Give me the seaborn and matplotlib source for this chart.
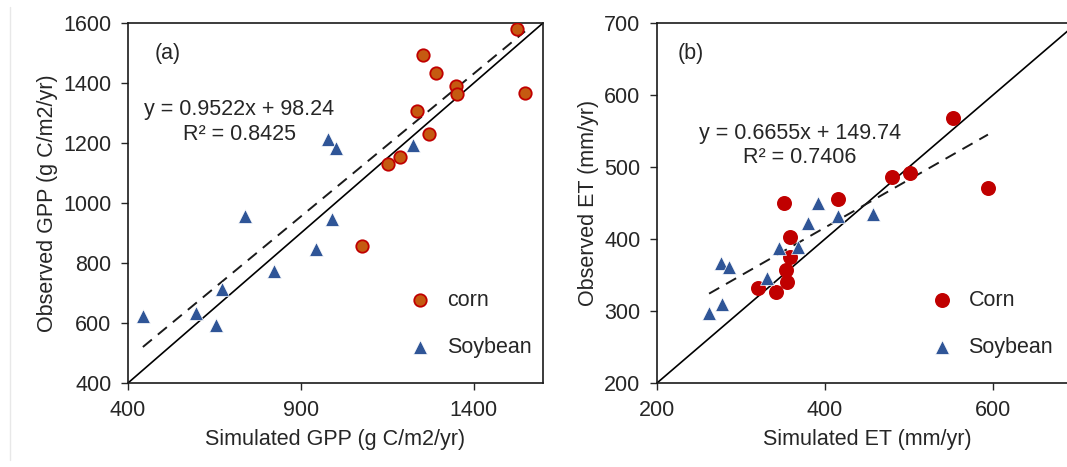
import numpy as np
import pandas as pd
import matplotlib
matplotlib.use("Agg")
import matplotlib.pyplot as plt
import seaborn as sns
from matplotlib.lines import Line2D

# ---------------- data ----------------
# Panel (a): GPP (g C/m2/yr)
gpp_corn_sim = [1525, 1548, 1253, 1291, 1348, 1351, 1236, 1270, 1187, 1152, 1077]
gpp_corn_obs = [1580, 1366, 1493, 1433, 1389, 1363, 1306, 1229, 1152, 1129, 855]
gpp_soy_sim = [978, 1001, 1224, 738, 990, 944, 822, 672, 597, 443, 654]
gpp_soy_obs = [1212, 1182, 1192, 958, 948, 848, 774, 714, 634, 624, 594]
gpp_fit = (0.9522, 98.24)
gpp_fit_text = ["y = 0.9522x + 98.24", "R\u00b2 = 0.8425"]
gpp_lim = [400, 1600]
gpp_xticks = [400, 900, 1400]
gpp_yticks = [400, 600, 800, 1000, 1200, 1400, 1600]

# Panel (b): ET (mm/yr)
et_corn_sim = [552, 594, 480, 501, 351, 415, 358, 358, 353, 355, 320, 342]
et_corn_obs = [568, 471, 486, 492, 450, 456, 403, 375, 357, 340, 332, 326]
et_soy_sim = [392, 415, 457, 380, 345, 368, 276, 286, 331, 277, 262]
et_soy_obs = [450, 432, 435, 422, 388, 389, 367, 361, 346, 310, 297]
et_fit = (0.6655, 149.74)
et_fit_text = ["y = 0.6655x + 149.74", "R\u00b2 = 0.7406"]
et_lim = [200, 700]
et_xticks = [200, 400, 600]
et_yticks = [200, 300, 400, 500, 600, 700]

labels_a = ["corn", "Soybean"]
labels_b = ["Corn", "Soybean"]

# ---------------- style ----------------
sns.set_theme(style="ticks")
plt.rcParams["font.family"] = ["Liberation Sans", "DejaVu Sans"]
TXT = "#262626"
plt.rcParams.update({
    "text.color": TXT, "axes.labelcolor": TXT,
    "xtick.color": TXT, "ytick.color": TXT,
    "axes.edgecolor": "#1a1a1a",
})
FS = 15.5

W, H = 1067, 467
fig = plt.figure(figsize=(W / 100, H / 100), dpi=100)

def pos(x0, x1, y0, y1):
    return [x0 / W, 1 - y1 / H, (x1 - x0) / W, (y1 - y0) / H]

ax1 = fig.add_axes(pos(128, 543, 23, 383))
ax2 = fig.add_axes(pos(657, 1077, 23, 383))

BLUE = "#2F5597"
RED = "#C00000"
ORANGE = "#C55A11"

def panel(ax, cs, co, ss, so, fit, fit_text, lim, xt, yt, labels,
          corn_face, corn_edge, corn_size, tag, tag_xy, text_xy,
          xlabel, ylabel, leg_anchor):
    dfc = pd.DataFrame({"sim": cs, "obs": co, "crop": labels[0]})
    dfs = pd.DataFrame({"sim": ss, "obs": so, "crop": labels[1]})
    # 1:1 line
    ax.plot(lim, lim, color="black", lw=1.2, zorder=1)
    # regression line over data range
    allx = np.array(list(cs) + list(ss))
    xr = np.array([allx.min(), allx.max()])
    ax.plot(xr, fit[0] * xr + fit[1], color="#1a1a1a", lw=1.4,
            ls=(0, (6, 4)), zorder=1)
    sns.scatterplot(data=dfc, x="sim", y="obs", ax=ax, marker="o",
                    s=corn_size, color=corn_face, edgecolor=corn_edge,
                    linewidth=1.3, label=labels[0], zorder=3)
    sns.scatterplot(data=dfs, x="sim", y="obs", ax=ax, marker="^",
                    s=100, color=BLUE, edgecolor="white", linewidth=0.5,
                    label=labels[1], zorder=3)
    ax.set_xlim(lim)
    ax.set_ylim(lim)
    ax.set_xticks(xt)
    ax.set_yticks(yt)
    ax.tick_params(axis="both", labelsize=FS, length=5, width=1.0,
                   direction="out", pad=7)
    for sp in ax.spines.values():
        sp.set_linewidth(1.2)
    ax.set_xlabel(xlabel, fontsize=FS, labelpad=6)
    ax.set_ylabel(ylabel, fontsize=FS, labelpad=4)
    ax.text(tag_xy[0], tag_xy[1], tag, transform=ax.transAxes,
            fontsize=FS, ha="left", va="center")
    ax.text(text_xy[0], text_xy[1], fit_text[0] + "\n" + fit_text[1],
            transform=ax.transAxes, fontsize=FS, ha="center", va="center",
            linespacing=1.2)
    ax.legend(frameon=False, loc="center left", bbox_to_anchor=leg_anchor,
              fontsize=FS, labelspacing=1.2, handletextpad=0.25,
              markerscale=1.0)

panel(ax1, gpp_corn_sim, gpp_corn_obs, gpp_soy_sim, gpp_soy_obs, gpp_fit,
      gpp_fit_text, gpp_lim, gpp_xticks, gpp_yticks, labels_a,
      ORANGE, RED, 80, "(a)", (0.065, 0.915), (0.268, 0.725),
      "Simulated GPP (g C/m2/yr)", "Observed GPP (g C/m2/yr)",
      (0.605, 0.165))
panel(ax2, et_corn_sim, et_corn_obs, et_soy_sim, et_soy_obs, et_fit,
      et_fit_text, et_lim, et_xticks, et_yticks, labels_b,
      RED, RED, 90, "(b)", (0.048, 0.915), (0.34, 0.66),
      "Simulated ET (mm/yr)", "Observed ET (mm/yr)",
      (0.58, 0.165))

# faint frame line at the left edge of the picture
fig.add_artist(Line2D([10 / W, 10 / W], [1 - 460 / H, 1 - 7 / H],
                      color="#e8e8e8", lw=1.0, transform=fig.transFigure))

fig.savefig("out.png", dpi=100)
